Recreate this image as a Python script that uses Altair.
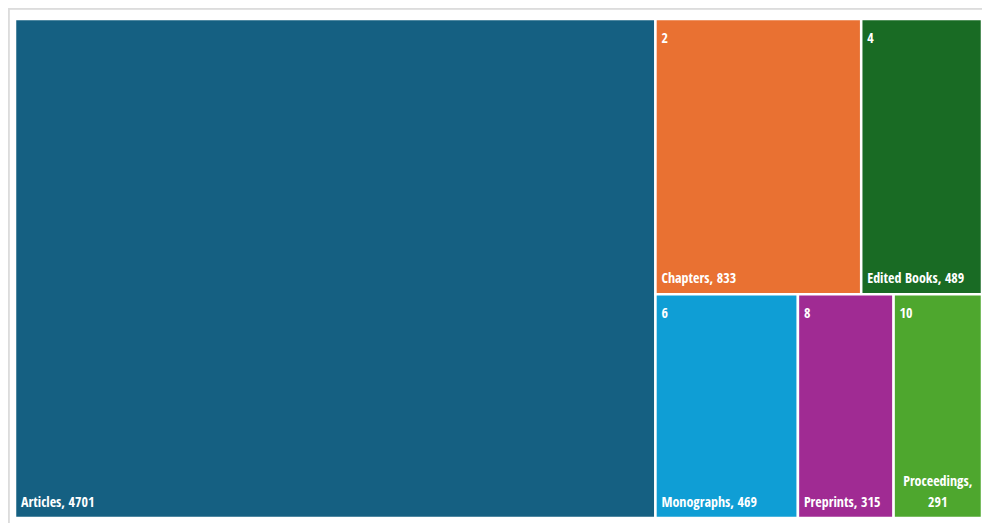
import altair as alt
import pandas as pd

# ---- data ----
names = ["Articles", "Chapters", "Edited Books", "Monographs", "Preprints", "Proceedings"]
counts = [4701, 833, 489, 469, 315, 291]
header_ids = [0, 2, 4, 6, 8, 10]
colors = ["#156082", "#E97132", "#196B24", "#0F9ED5", "#A02B93", "#4EA72E"]

W, H = 967, 499          # plot area (layout units == pixels)
FONT = "Open Sans Condensed, Roboto Condensed, sans-serif"


def split_index(vals):
    """Balanced binary split point (as in d3.treemapBinary)."""
    total = sum(vals)
    half = total / 2.0
    acc = 0.0
    for k, v in enumerate(vals):
        if acc + v >= half:
            if k > 0 and (half - acc) < (acc + v - half):
                return max(1, k)
            return min(len(vals) - 1, k + 1)
        acc += v
    return len(vals) - 1


def layout(idx, x0, y0, x1, y1, depth, out):
    vals = [counts[i] for i in idx]
    if len(idx) == 1:
        out[idx[0]] = (x0, y0, x1, y1)
        return
    total = float(sum(vals))
    wide = (x1 - x0) >= (y1 - y0)
    if depth >= 2:
        # strip along the longer side
        pos = x0 if wide else y0
        for i, v in zip(idx, vals):
            if wide:
                nxt = pos + (x1 - x0) * v / total
                out[i] = (pos, y0, nxt, y1)
            else:
                nxt = pos + (y1 - y0) * v / total
                out[i] = (x0, pos, x1, nxt)
            pos = nxt
        return
    k = split_index(vals)
    frac = sum(vals[:k]) / total
    if wide:
        xm = x0 + (x1 - x0) * frac
        layout(idx[:k], x0, y0, xm, y1, depth + 1, out)
        layout(idx[k:], xm, y0, x1, y1, depth + 1, out)
    else:
        ym = y0 + (y1 - y0) * frac
        layout(idx[:k], x0, y0, x1, ym, depth + 1, out)
        layout(idx[k:], x0, ym, x1, y1, depth + 1, out)


rects = {}
layout(list(range(len(names))), 0, 0, W, H, 0, rects)

rows = []
for i, n in enumerate(names):
    x0, y0, x1, y1 = rects[i]
    label = f"{n}, {counts[i]}"
    est = len(label) * 5.4
    wrapped = est > (x1 - x0) - 12
    rows.append({
        "name": n,
        "count": counts[i],
        "x": x0, "x2": x1, "y": y0, "y2": y1,
        "xc": (x0 + x1) / 2,
        "label": label.replace(", ", ",\n") if wrapped else label,
        "wrapped": wrapped,
        "header": str(header_ids[i]) if header_ids[i] else "",
    })
df = pd.DataFrame(rows)

xs = alt.Scale(domain=[0, W], nice=False, zero=False)
ys = alt.Scale(domain=[0, H], nice=False, zero=False, reverse=True)

base = alt.Chart(df)

cells = base.mark_rect(stroke="white", strokeWidth=2.5).encode(
    x=alt.X("x:Q", scale=xs, axis=None),
    x2="x2:Q",
    y=alt.Y("y:Q", scale=ys, axis=None),
    y2="y2:Q",
    color=alt.Color("name:N", scale=alt.Scale(domain=names, range=colors), legend=None),
    tooltip=["name:N", "count:Q"],
)

txt = dict(font=FONT, fontWeight="bold", fontSize=14, color="white")

labels = base.transform_filter("!datum.wrapped").mark_text(
    align="left", baseline="alphabetic", dx=6, dy=-11, **txt
).encode(x=alt.X("x:Q", scale=xs), y=alt.Y("y2:Q", scale=ys), text="label:N")

wrapped_labels = base.transform_filter("datum.wrapped").mark_text(
    align="center", baseline="alphabetic", dy=-32, lineBreak="\n", lineHeight=21, **txt
).encode(x=alt.X("xc:Q", scale=xs), y=alt.Y("y2:Q", scale=ys), text="label:N")

headers = base.transform_filter("datum.header != ''").mark_text(
    align="left", baseline="alphabetic", dx=6, dy=24, **txt
).encode(x=alt.X("x:Q", scale=xs), y=alt.Y("y:Q", scale=ys), text="header:N")

frame_top = alt.Chart(df).mark_rule(color="#dcdcdc", strokeWidth=1.5).encode(
    x=alt.value(-6.5), x2=alt.value(W + 3), y=alt.value(-10.5)
)
frame_left = alt.Chart(df).mark_rule(color="#dcdcdc", strokeWidth=1.5).encode(
    x=alt.value(-6.5), y=alt.value(-10.5), y2=alt.value(H + 5)
)

chart = alt.layer(frame_top, frame_left, cells, labels, wrapped_labels, headers).properties(
    width=W,
    height=H,
    padding={"left": 7, "top": 11, "right": 0, "bottom": 5},
    autosize=alt.AutoSizeParams(type="none"),
).configure_view(strokeWidth=0)

chart.save("out.html", embed_options={"renderer": "svg", "actions": False})
